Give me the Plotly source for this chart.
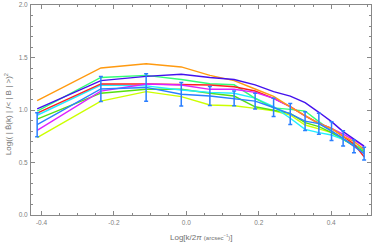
import plotly.graph_objects as go

x_vals = [-0.412, -0.236, -0.111, -0.014, 0.065, 0.132, 0.190, 0.241, 0.287, 0.328, 0.366, 0.401, 0.433, 0.463, 0.491]

orange  = [1.09, 1.40, 1.44, 1.41, 1.33, 1.28, 1.20, 1.13, 1.03, 0.95, 0.87, 0.825, 0.752, 0.698, 0.625]
purple  = [1.01, 1.28, 1.32, 1.34, 1.31, 1.29, 1.24, 1.175, 1.133, 1.07, 0.978, 0.889, 0.794, 0.721, 0.657]
green   = [0.99, 1.31, 1.33, 1.29, 1.25, 1.24, 1.11, 1.02, 1.006, 0.99, 0.889, 0.803, 0.721, 0.667, 0.619]
red     = [0.97, 1.248, 1.248, 1.245, 1.238, 1.222, 1.181, 1.111, 1.032, 0.943, 0.873, 0.825, 0.752, 0.676, 0.555]
cyan    = [0.95, 1.238, 1.23, 1.19, 1.168, 1.159, 1.113, 1.032, 0.921, 0.816, 0.784, 0.762, 0.721, 0.672, 0.615]
lime    = [0.914, 1.16, 1.197, 1.197, 1.159, 1.133, 1.031, 1.0, 0.968, 0.879, 0.841, 0.784, 0.721, 0.665, 0.603]
magenta = [0.806, 1.18, 1.248, 1.238, 1.197, 1.197, 1.168, 1.111, 1.032, 0.943, 0.873, 0.825, 0.771, 0.714, 0.650]
blue    = [0.86, 1.20, 1.215, 1.15, 1.133, 1.111, 1.085, 1.024, 0.963, 0.894, 0.870, 0.799, 0.730, 0.654, 0.585]
blue_err = [0.115, 0.118, 0.131, 0.111, 0.09, 0.07, 0.075, 0.087, 0.10, 0.09, 0.10, 0.09, 0.073, 0.06, 0.06]
yellow  = [0.737, 1.085, 1.175, 1.127, 1.048, 1.041, 1.016, 0.993, 0.952, 0.857, 0.820, 0.784, 0.721, 0.665, 0.603]

x_ticks = [-0.4, -0.2, 0.0, 0.2, 0.4]
x_tick_labels = ["-0.4", "-0.2", "0.0", "0.2", "0.4"]
y_ticks = [0, 0.5, 1.0, 1.5, 2.0]
y_tick_labels = ["0.0", "0.5", "1.0", "1.5", "2.0"]

series = [
    ("yellow", yellow, "#ccff00"),
    ("lime", lime, "#55e010"),
    ("cyan", cyan, "#22eeff"),
    ("green", green, "#33ff77"),
    ("red", red, "#ff2020"),
    ("magenta", magenta, "#dd22ff"),
    ("orange", orange, "#ff9a10"),
    ("purple", purple, "#4411ee"),
]

FONT = "Liberation Sans, Arial, sans-serif"
GRAY = "#888888"

fig = go.Figure()
for name, ys, col in series:
    fig.add_trace(go.Scatter(x=x_vals, y=ys, mode="lines", name=name,
                             line=dict(color=col, width=1.4), showlegend=False))
fig.add_trace(go.Scatter(x=x_vals, y=blue, mode="lines", name="blue",
                         line=dict(color="#2a7fff", width=1.4), showlegend=False,
                         error_y=dict(type="data", array=blue_err, visible=True,
                                      color="#2a7fff", thickness=1.5, width=2)))

axis_common = dict(showline=True, linecolor=GRAY, linewidth=1, mirror="ticks",
                   ticks="inside", ticklen=4, tickcolor=GRAY, tickwidth=1,
                   showgrid=False, zeroline=False, automargin=False,
                   tickfont=dict(family=FONT, size=6.5, color="#808080"))

fig.update_xaxes(range=[-0.429, 0.51], tickvals=x_ticks, ticktext=x_tick_labels,
                 minor=dict(dtick=0.05, tick0=0, ticks="inside", ticklen=2, tickcolor=GRAY),
                 ticklabelstandoff=1,
                 **axis_common)
fig.update_yaxes(range=[0, 2], tickvals=y_ticks, ticktext=y_tick_labels,
                 minor=dict(dtick=0.1, tick0=0, ticks="inside", ticklen=2, tickcolor=GRAY),
                 ticklabelstandoff=1,
                 **axis_common)

fig.add_annotation(text="Log[k/2<i>π</i> <span style='font-size:6px'>(arcsec<sup>−1</sup>)</span>]",
                   xref="paper", yref="paper", x=0.5, y=0, yshift=-22, yanchor="middle",
                   showarrow=False, font=dict(family=FONT, size=8, color="#707070"))
fig.add_annotation(text="Log(( | B̂(k) | /< | B | >)<sup>2</sup>",
                   xref="paper", yref="paper", x=0, xshift=-23, y=0.48, xanchor="center",
                   textangle=-90, showarrow=False,
                   font=dict(family=FONT, size=8, color="#707070"))

fig.update_layout(width=374, height=242, margin=dict(l=31, r=3, t=5, b=27),
                  plot_bgcolor="white", paper_bgcolor="white")
fig.write_html("out.html", config={"displayModeBar": False},
               post_script="document.body.style.margin='0';")
